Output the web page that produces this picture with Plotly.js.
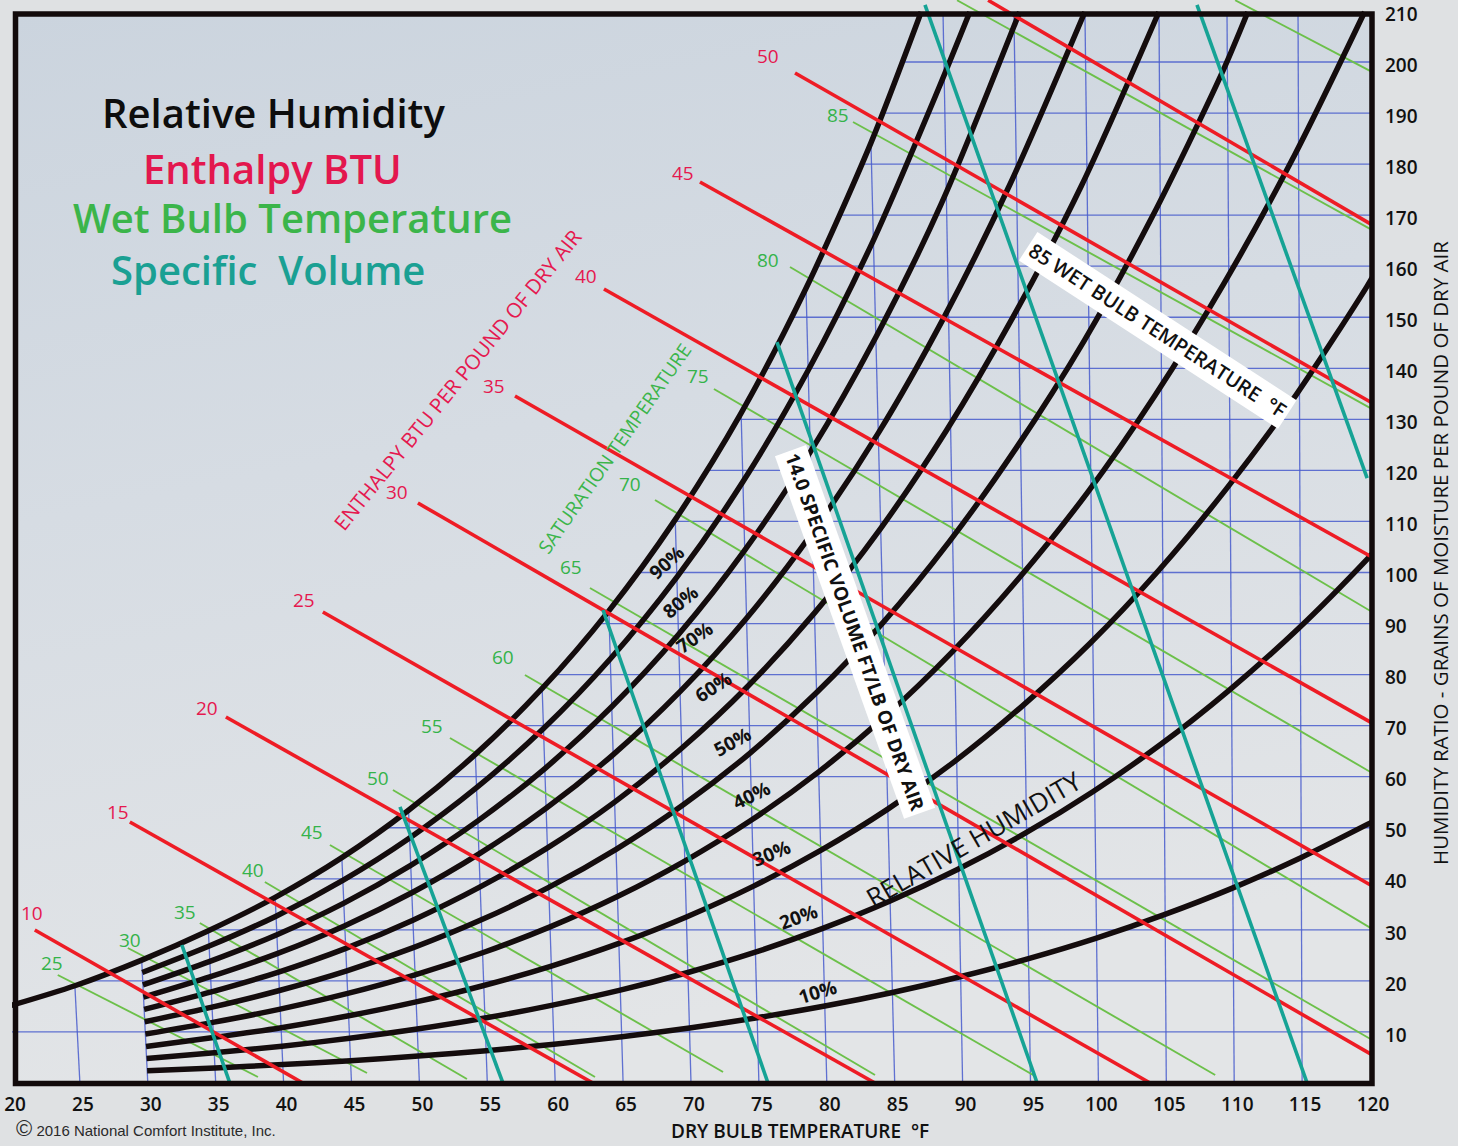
<!DOCTYPE html>
<html><head><meta charset="utf-8">
<script src="https://cdn.plot.ly/plotly-3.0.1.min.js"></script>
<style>html,body{margin:0;padding:0;background:#dfe1e3;}#chart{width:1458px;height:1146px;}</style>
</head><body><div id="chart"></div>
<script>
// ---------------- DATA ----------------
// x = dry-bulb axis position (°F), y = humidity ratio (grains / lb dry air)
const rhLevels = [100, 90, 80, 70, 60, 50, 40, 30, 20, 10];

const rh100X = [19.7, 24.63, 29.55, 34.46, 39.38, 44.29, 49.2, 54.12, 59.04, 63.95, 68.84, 73.69, 78.47, 83.25, 86.95];
const rh100W = [15.0, 19.05, 24.07, 29.83, 36.36, 44.14, 53.42, 64.37, 77.28, 92.49, 110.36, 131.23, 155.67, 184.17, 209.8];

const rh90X = [29.59, 34.52, 39.44, 44.36, 49.28, 54.21, 59.14, 64.05, 68.96, 73.82, 78.63, 83.43, 88.21, 90.53];
const rh90W = [21.65, 26.83, 32.68, 39.70, 48.01, 57.85, 69.44, 83.06, 99.09, 117.76, 139.62, 165.07, 194.66, 209.8];

const rh80X = [29.64, 34.57, 39.51, 44.44, 49.36, 54.30, 59.24, 64.16, 69.08, 73.96, 78.79, 83.61, 88.42, 94.2];
const rh80W = [19.22, 23.83, 29.05, 35.24, 42.63, 51.35, 61.60, 73.69, 87.84, 104.37, 123.64, 146.10, 172.16, 209.8];

const rh70X = [29.68, 34.62, 39.57, 44.51, 49.44, 54.39, 59.33, 64.27, 69.19, 74.09, 78.94, 83.79, 88.62, 93.50, 99.0];
const rh70W = [16.83, 20.84, 25.39, 30.82, 37.26, 44.87, 53.81, 64.34, 76.67, 91.04, 107.82, 127.30, 149.93, 176.10, 209.8];

const rh60X = [29.73, 34.68, 39.63, 44.58, 49.52, 54.47, 59.43, 64.37, 69.31, 74.22, 79.10, 83.97, 88.82, 93.72, 98.75, 104.45];
const rh60W = [14.42, 17.85, 21.74, 26.38, 31.90, 38.41, 46.05, 55.02, 65.57, 77.81, 92.09, 108.66, 127.88, 150.09, 175.76, 209.8];

const rh50X = [29.77, 34.73, 39.69, 44.65, 49.60, 54.56, 59.52, 64.48, 69.43, 74.35, 79.25, 84.14, 89.02, 93.94, 98.97, 103.98, 109.07, 111.0];
const rh50W = [12.0, 14.86, 18.12, 21.97, 26.56, 31.96, 38.31, 45.78, 54.50, 64.64, 76.48, 90.18, 106.05, 124.37, 145.49, 169.77, 197.66, 209.8];

const rh40X = [29.82, 34.79, 39.75, 44.72, 49.68, 54.65, 59.62, 64.58, 69.54, 74.48, 79.40, 84.32, 89.22, 94.16, 99.18, 104.19, 109.26, 114.45, 119.6];
const rh40W = [9.59, 11.88, 14.48, 17.55, 21.19, 25.51, 30.58, 36.53, 43.48, 51.56, 60.95, 71.86, 84.42, 98.93, 115.61, 134.77, 156.69, 181.79, 209.8];

const rh30X = [29.87, 34.84, 39.82, 44.79, 49.76, 54.74, 59.72, 64.69, 69.66, 74.61, 79.55, 84.49, 89.42, 94.37, 99.39, 104.40, 109.45, 114.60, 119.77, 120.76];
const rh30W = [7.17, 8.91, 10.84, 13.16, 15.88, 19.10, 22.90, 27.34, 32.53, 38.56, 45.56, 53.65, 63.0, 73.79, 86.14, 100.30, 116.48, 134.95, 156.01, 160.5];

const rh20X = [29.91, 34.89, 39.88, 44.86, 49.84, 54.83, 59.81, 64.79, 69.77, 74.74, 79.70, 84.66, 89.62, 94.58, 99.59, 104.60, 109.64, 114.73, 119.85, 120.84];
const rh20W = [4.80, 5.93, 7.21, 8.76, 10.57, 12.72, 15.25, 18.18, 21.65, 25.63, 30.28, 35.64, 41.82, 48.89, 57.06, 66.35, 76.98, 89.03, 102.78, 105.7];

const rh10X = [29.95, 34.95, 39.94, 44.93, 49.92, 54.91, 59.91, 64.90, 69.89, 74.87, 79.85, 84.83, 89.81, 94.79, 99.80, 104.80, 109.82, 114.87, 119.92, 120.92];
const rh10W = [2.40, 2.96, 3.61, 4.37, 5.27, 6.34, 7.58, 9.07, 10.78, 12.78, 15.07, 17.73, 20.81, 24.31, 28.33, 32.93, 38.13, 44.08, 50.81, 52.2];

// Enthalpy lines (BTU per lb dry air)
const enthLabels = [10, 15, 20, 25, 30, 35, 40, 45, 50, 55];
const enthStartX = [21.68, 28.68, 35.75, 42.89, 49.89, 57.04, 63.59, 70.66, 77.66, 91.88];
const enthStartW = [29.97, 51.13, 71.69, 92.26, 113.61, 134.57, 155.53, 176.49, 197.85, 212.1];
const enthEndX   = [41.42, 62.78, 83.55, 103.81, 120.16, 120.16, 120.16, 120.16, 120.16, 120.16];
const enthEndW   = [0, 0, 0, 0, 5.5, 38.6, 70.5, 103.0, 133.2, 168.1];

// Wet bulb lines (°F)
const wbLabels = [25, 30, 35, 40, 45, 50, 55, 60, 65, 70, 75, 80, 85, 90, 95];
const wbStartX = [23.37, 28.53, 33.83, 38.62, 43.41, 48.05, 52.25, 57.77, 62.56, 67.35, 71.69, 77.29, 81.93, 89.59, 110.07];
const wbStartW = [21.16, 26.44, 31.34, 39.37, 46.62, 57.39, 67.58, 79.92, 96.96, 114.2, 135.95, 159.84, 188.25, 212.1, 212.1];
const wbEndX   = [38.11, 46.14, 53.5, 62.93, 72.36, 83.55, 95.19, 108.6, 120.16, 120.16, 120.16, 120.16, 120.16, 120.16, 120.16];
const wbEndW   = [1.18, 1.96, 0.78, 1.18, 2.15, 1.57, 1.57, 1.57, 8.42, 30.17, 60.72, 92.26, 132.03, 167.09, 198.04];

// Specific volume lines (ft³/lb dry air)
const volLabels = [12.5, 13.0, 13.5, 14.0, 14.5, 15.0];
const volStartX = [32.51, 48.57, 63.52, 76.33, 87.23, 107.26];
const volStartW = [27.03, 54.07, 92.65, 145.15, 211.2, 211.2];
const volEndX   = [36.04, 56.15, 75.67, 95.49, 115.37, 119.79];
const volEndW   = [0, 0, 0, 0, 0, 118.5];

// Grid: dry bulb lines (bottom value and top end) and humidity ratio lines
const dbGridT    = [25, 30, 35, 40, 45, 50, 55, 60, 65, 70, 75, 80, 85, 90, 95, 100, 105, 110, 115];
const dbGridTopX = [24.63, 29.55, 34.46, 39.38, 44.29, 49.2, 54.12, 59.04, 63.95, 68.84, 73.69, 78.47, 83.25, 88.56, 93.78, 99.01, 104.46, 109.47, 114.7];
const dbGridTopW = [19.05, 24.07, 29.83, 36.36, 44.14, 53.42, 64.37, 77.28, 92.49, 110.36, 131.23, 155.67, 184.17, 209.5, 209.5, 209.5, 209.5, 209.5, 209.5];
const wGridVals  = [10, 20, 30, 40, 50, 60, 70, 80, 90, 100, 110, 120, 130, 140, 150, 160, 170, 180, 190, 200];

const xTickVals = [20, 25, 30, 35, 40, 45, 50, 55, 60, 65, 70, 75, 80, 85, 90, 95, 100, 105, 110, 115, 120];
const yTickVals = [10, 20, 30, 40, 50, 60, 70, 80, 90, 100, 110, 120, 130, 140, 150, 160, 170, 180, 190, 200, 210];

// ---------------- BUILD ----------------
const X_RIGHT = 120.16;
function satXAt(w) {
  if (w <= rh100W[0]) return 20;
  for (let i = 1; i < rh100W.length; i++) {
    if (w <= rh100W[i]) {
      const t = (w - rh100W[i - 1]) / (rh100W[i] - rh100W[i - 1]);
      return rh100X[i - 1] + t * (rh100X[i] - rh100X[i - 1]);
    }
  }
  return rh100X[rh100X.length - 1];
}
function segs(x0, y0, x1, y1) {
  const xs = [], ys = [];
  for (let i = 0; i < x0.length; i++) { xs.push(x0[i], x1[i], null); ys.push(y0[i], y1[i], null); }
  return { x: xs, y: ys };
}

const traces = [];
(function () {
  const xs = [], ys = [];
  wGridVals.forEach(w => { xs.push(satXAt(w), X_RIGHT, null); ys.push(w, w, null); });
  traces.push({ x: xs, y: ys, mode: 'lines', line: { color: 'rgba(72,92,205,0.85)', width: 1.3 }, hoverinfo: 'skip' });
})();
(function () {
  const s = segs(dbGridT, dbGridT.map(() => 0), dbGridTopX, dbGridTopW);
  traces.push({ x: s.x, y: s.y, mode: 'lines', line: { color: 'rgba(72,92,205,0.85)', width: 1.3 }, hoverinfo: 'skip' });
})();
(function () {
  const s = segs(wbStartX, wbStartW, wbEndX, wbEndW);
  traces.push({ x: s.x, y: s.y, mode: 'lines', line: { color: '#6cc04a', width: 1.9 }, hoverinfo: 'skip' });
})();
const rhX = [rh100X, rh90X, rh80X, rh70X, rh60X, rh50X, rh40X, rh30X, rh20X, rh10X];
const rhW = [rh100W, rh90W, rh80W, rh70W, rh60W, rh50W, rh40W, rh30W, rh20W, rh10W];
rhLevels.forEach((lv, i) => {
  traces.push({ x: rhX[i], y: rhW[i], mode: 'lines', name: lv + '%',
    line: { color: '#140c0d', width: 5.5, shape: 'spline', smoothing: 0.8 }, hoverinfo: 'skip' });
});
(function () {
  const s = segs(enthStartX, enthStartW, enthEndX, enthEndW);
  traces.push({ x: s.x, y: s.y, mode: 'lines', line: { color: '#ee1c25', width: 3.6 }, hoverinfo: 'skip' });
})();
(function () {
  const s = segs(volStartX, volStartW, volEndX, volEndW);
  traces.push({ x: s.x, y: s.y, mode: 'lines', line: { color: '#16a395', width: 3.6 }, hoverinfo: 'skip' });
})();

// ---------------- ANNOTATIONS ----------------
const FONT = 'Open Sans, Noto Sans, sans-serif';
const ann = [];
const enthShift = [[-3, -17], [-12, -10], [-19, -9], [-19, -12], [-21, -11], [-21, -10], [-18, -13], [-17, -9], [-27, -17]];
enthShift.forEach((sh, i) => {
  ann.push({ x: enthStartX[i], y: enthStartW[i], xref: 'x', yref: 'y', text: String(enthLabels[i]), showarrow: false,
    xshift: sh[0], yshift: -sh[1], font: { family: FONT, size: 19, color: '#e5184f', weight: 500 } });
});
const wbShift = [[-6, -12], [2, -8], [-15, -11], [-12, -12], [-18, -13], [-15, -12], [-18, -12], [-22, -18], [-19, -21], [-25, -16], [-16, -13], [-22, -7], [-15, -7]];
wbShift.forEach((sh, i) => {
  ann.push({ x: wbStartX[i], y: wbStartW[i], xref: 'x', yref: 'y', text: String(wbLabels[i]), showarrow: false,
    xshift: sh[0], yshift: -sh[1], font: { family: FONT, size: 19, color: '#34b34a', weight: 500 } });
});
const rhLab = [
  ['90%', 68.23, 102.06, -42], ['80%', 69.19, 94.22, -39], ['70%', 70.29, 87.36, -35], ['60%', 71.62, 77.57, -33],
  ['50%', 73.02, 66.8, -29], ['40%', 74.49, 56.41, -26], ['30%', 75.96, 45.05, -22], ['20%', 77.88, 32.52, -20], ['10%', 79.28, 17.83, -17]
];
rhLab.forEach(r => ann.push({ x: r[1], y: r[2], xref: 'x', yref: 'y', text: r[0], showarrow: false, textangle: r[3],
  font: { family: FONT, size: 19, color: '#111', weight: 700 } }));

ann.push({ x: 39.29, y: 190.2, xref: 'x', yref: 'y', text: 'Relative Humidity', showarrow: false, font: { family: FONT, size: 40, color: '#0d0d0d', weight: 600 } });
ann.push({ x: 39.15, y: 179.2, xref: 'x', yref: 'y', text: 'Enthalpy BTU', showarrow: false, font: { family: FONT, size: 40, color: '#e3174e', weight: 600 } });
ann.push({ x: 40.62, y: 169.6, xref: 'x', yref: 'y', text: 'Wet Bulb Temperature', showarrow: false, font: { family: FONT, size: 40, color: '#3bb54a', weight: 600 } });
ann.push({ x: 38.85, y: 159.3, xref: 'x', yref: 'y', text: 'Specific\u00a0 Volume', showarrow: false, font: { family: FONT, size: 40, color: '#1aa093', weight: 600 } });

ann.push({ x: 52.77, y: 137.7, xref: 'x', yref: 'y', text: 'ENTHALPY BTU PER POUND OF DRY AIR', showarrow: false, textangle: -51,
  font: { family: FONT, size: 20.5, color: '#e5184f', weight: 500 } });
ann.push({ x: 64.4, y: 124.4, xref: 'x', yref: 'y', text: 'SATURATION TEMPERATURE', showarrow: false, textangle: -55,
  font: { family: FONT, size: 19, color: '#3bb54a', weight: 500 } });
ann.push({ x: 90.77, y: 47.8, xref: 'x', yref: 'y', text: 'RELATIVE HUMIDITY', showarrow: false, textangle: -30,
  font: { family: FONT, size: 26, color: '#111', weight: 500 } });
ann.push({ x: 82.08, y: 88.34, xref: 'x', yref: 'y', text: '14.0 SPECIFIC VOLUME FT/LB OF DRY AIR', showarrow: false, textangle: 70.4,
  bgcolor: '#ffffff', borderpad: 3, font: { family: FONT, size: 19, color: '#111', weight: 700 } });
ann.push({ x: 104.39, y: 147.5, xref: 'x', yref: 'y', text: '85 WET BULB TEMPERATURE\u00a0 °F', showarrow: false, textangle: 33,
  bgcolor: '#ffffff', borderpad: 3, font: { family: FONT, size: 20, color: '#111', weight: 600 } });

ann.push({ x: 0.5803, y: -0.0443, xref: 'paper', yref: 'paper', xanchor: 'center', yanchor: 'middle', text: 'DRY BULB TEMPERATURE\u00a0 °F', showarrow: false,
  font: { family: FONT, size: 19, color: '#111', weight: 600 } });
ann.push({ x: 1.0516, y: 0.4895, xref: 'paper', yref: 'paper', xanchor: 'center', yanchor: 'middle', text: 'HUMIDITY RATIO - GRAINS OF MOISTURE PER POUND OF DRY AIR', showarrow: false,
  textangle: -90, font: { family: FONT, size: 20.5, color: '#111', weight: 500 } });
ann.push({ x: 0.0015, y: -0.0416, xref: 'paper', yref: 'paper', xanchor: 'left', yanchor: 'middle', showarrow: false,
  text: '<span style="font-size:22px">©</span> 2016 National Comfort Institute, Inc.',
  font: { family: 'Liberation Sans, Arial, sans-serif', size: 15, color: '#2a2a2a' } });

const bgSvg = "<svg xmlns='http://www.w3.org/2000/svg' width='200' height='200' viewBox='0 0 200 200' preserveAspectRatio='none'>" +
  "<defs><linearGradient id='g' x1='0' y1='0' x2='0.25' y2='1'>" +
  "<stop offset='0' stop-color='#cbd4de'/><stop offset='0.45' stop-color='#d6dce3'/><stop offset='1' stop-color='#e3e5e7'/>" +
  "</linearGradient></defs><rect width='200' height='200' fill='url(#g)'/></svg>";

const layout = {
  width: 1458, height: 1146,
  margin: { l: 12, r: 88, t: 0, b: 63, autoexpand: false },
  paper_bgcolor: '#dfe1e3', plot_bgcolor: 'rgba(0,0,0,0)',
  showlegend: false, hovermode: false,
  xaxis: { range: [20, 120], tickmode: 'array', tickvals: xTickVals, ticktext: xTickVals.map(String),
    showgrid: false, zeroline: false, showline: false, ticks: '', ticklabelstandoff: 8, ticklabelshift: 3, ticklabeloverflow: 'allow',
    tickfont: { family: FONT, size: 19, color: '#111', weight: 600 }, fixedrange: true },
  yaxis: { range: [0, 212.15], side: 'right', tickmode: 'array', tickvals: yTickVals, ticktext: yTickVals.map(String),
    showgrid: false, zeroline: false, showline: false, ticks: '', ticklabelstandoff: 14, ticklabelshift: 3, ticklabeloverflow: 'allow',
    tickfont: { family: FONT, size: 19, color: '#111', weight: 600 }, fixedrange: true },
  images: [{ source: 'data:image/svg+xml;base64,' + btoa(bgSvg), xref: 'paper', yref: 'paper',
    x: 0.00258, y: 0.98707, sizex: 0.99889, sizey: 0.98753, xanchor: 'left', yanchor: 'top', sizing: 'stretch', layer: 'below' }],
  shapes: [{ type: 'rect', xref: 'paper', yref: 'paper', x0: 0.00258, x1: 1.00147, y0: -0.00046, y1: 0.98707,
    line: { color: '#120a0b', width: 5.5 }, fillcolor: 'rgba(0,0,0,0)', layer: 'above' }],
  annotations: ann
};

Plotly.newPlot('chart', traces, layout, { staticPlot: true, displayModeBar: false });
</script></body></html>
